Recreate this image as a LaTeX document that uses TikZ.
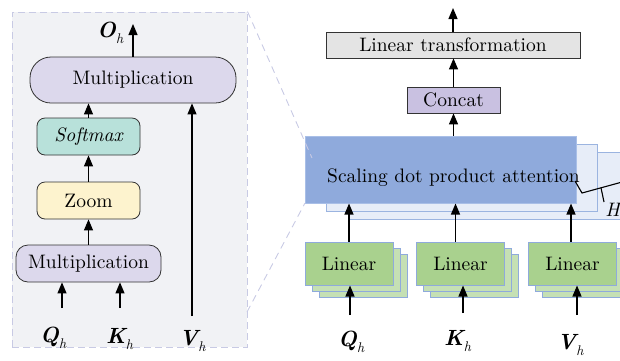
\documentclass[tikz,border=0pt]{standalone}
\usepackage{fontspec}
\setmainfont{lmroman10-regular.otf}[BoldFont=lmroman10-bold.otf,ItalicFont=lmroman10-italic.otf,BoldItalicFont=lmroman10-bolditalic.otf]
\usetikzlibrary{arrows.meta}
\definecolor{panelfill}{HTML}{F1F2F5}
\definecolor{paneldash}{HTML}{C8CAE4}
\definecolor{multfill}{HTML}{DCD8EC}
\definecolor{softfill}{HTML}{B8E1DA}
\definecolor{zoomfill}{HTML}{FDF3CE}
\definecolor{ltfill}{HTML}{E4E4E4}
\definecolor{concatfill}{HTML}{C9C1E1}
\definecolor{sdpafill}{HTML}{8FAADC}
\definecolor{sdpaedge}{HTML}{A9BFE7}
\definecolor{copyfill}{HTML}{E7EDF8}
\definecolor{copyedge}{HTML}{9BB4E0}
\definecolor{linfill}{HTML}{A9D18E}
\definecolor{linedge}{HTML}{8FAADC}
\definecolor{lincopy}{HTML}{C5E0B4}
\newcommand{\vlab}[2]{{\fontsize{22}{22}\selectfont\bfseries\itshape #1}{\fontsize{14}{14}\selectfont\itshape\raisebox{-6pt}{#2}}}
\begin{document}
\begin{tikzpicture}[x=1pt,y=-1pt,font=\fontsize{19.5}{23}\selectfont,
  box/.style={draw=black!80,line width=0.8pt,inner sep=0pt},
  arr/.style={line width=1.2pt,-{Triangle[length=11pt,width=9pt]}},
  sdpacopy/.style={draw=copyedge,fill=copyfill,line width=1pt,inner sep=0pt,minimum width=271pt,minimum height=67pt},
  lincopybox/.style={draw=linedge,fill=lincopy,line width=1pt,inner sep=0pt,minimum width=88pt,minimum height=43pt},
  linbox/.style={draw=linedge,fill=linfill,line width=1pt,inner sep=0pt,minimum width=88pt,minimum height=43pt},
  lab/.style={inner sep=0pt,anchor=base west},
  zoomline/.style={draw=paneldash,line width=0.9pt,dash pattern=on 7pt off 5pt}]
\useasboundingbox (0,0) rectangle (620,360);

% ---------- left panel ----------
\node[draw=paneldash,fill=panelfill,line width=1pt,dash pattern=on 7pt off 4pt,
      minimum width=235pt,minimum height=335pt,inner sep=0pt] (panel) at (129.5,179.5) {};

\node[box,fill=multfill,rounded corners=21pt,minimum width=206pt,minimum height=46pt] (multtop) at (133,80) {Multiplication};
\node[box,fill=softfill,rounded corners=8pt,minimum width=103pt,minimum height=37pt] (soft) at (88.5,136.5) {\itshape Softmax};
\node[box,fill=zoomfill,rounded corners=8pt,minimum width=103pt,minimum height=37pt] (zoom) at (88.5,200.5) {Zoom};
\node[box,fill=multfill,rounded corners=12pt,minimum width=145pt,minimum height=37pt] (multbot) at (88.5,263.5) {Multiplication};

\coordinate (qinl) at (62,308);
\coordinate (kinl) at (120,308);
\coordinate (vinl) at (192,316);
\coordinate (outl) at (133,24);

\draw[arr] (qinl) -- (qinl |- multbot.south);
\draw[arr] (kinl) -- (kinl |- multbot.south);
\draw[arr] (multbot.north) -- (zoom.south);
\draw[arr] (zoom.north) -- (soft.south);
\draw[arr] (soft.north) -- (soft.north |- multtop.south);
\draw[arr] (vinl) -- (vinl |- multtop.south);
\draw[arr] (multtop.north -| outl) -- (outl);

\node[lab] (ohl) at (97,37) {\vlab{O}{h}};
\node[lab] (qhl) at (40,342) {\vlab{Q}{h}};
\node[lab] (khl) at (106,343) {\vlab{K}{h}};
\node[lab] (vhl) at (179,345) {\vlab{V}{h}};

% ---------- right side ----------
\node[box,fill=ltfill,minimum width=254pt,minimum height=26pt] (lt) at (453,45) {Linear transformation};
\node[box,fill=concatfill,minimum width=93pt,minimum height=26pt] (concat) at (453.5,100) {Concat};

\node[sdpacopy] (sdpa3) at (484.5,186) {};
\node[sdpacopy] (sdpa2) at (462,178) {};
\node[draw=sdpaedge,fill=sdpafill,line width=1pt,inner sep=0pt,minimum width=271pt,minimum height=67pt] (sdpa) at (440.5,169.5) {};
\node[inner sep=0pt,anchor=base] (sdpatext) at (453.5,182) {Scaling dot product attention};

% zoom lines
\coordinate (pbot) at (247,312);
\coordinate (ztopend) at (312,158);
\coordinate (zbotend) at (305,203);
\draw[zoomline] (panel.north east) -- (ztopend);
\draw[zoomline] (pbot) -- (zbotend);

% brace with H
\draw[line width=1.1pt] (575,181) -- (582,193) -- (624,181.5);
\draw[line width=1.1pt] (601,187.8) -- (604,202);
\node[inner sep=0pt,anchor=east] (hlab) at (620,210) {\itshape H};

% linear stacks
\foreach \n/\cx in {1/349,2/460.5,3/572.5}{
  \node[lincopybox] (lin\n c2) at (\cx+14,275.5) {};
  \node[lincopybox] (lin\n c1) at (\cx+7,269.5) {};
  \node[linbox] (lin\n) at (\cx,263.5) {Linear};
}

\coordinate (qinr) at (350,315);
\coordinate (kinr) at (463,313);
\coordinate (vinr) at (577,315);
\draw[arr] (qinr) -- (qinr |- lin1.south);
\draw[arr] (kinr) -- (kinr |- lin2.south);
\draw[arr] (vinr) -- (vinr |- lin3.south);

\draw[arr] (lin1.north) -- (lin1.north |- sdpa.south);
\draw[arr] ([xshift=-5pt]lin2.north) -- ([xshift=-5pt]lin2.north |- sdpa.south);
\draw[arr] ([xshift=-1.5pt]lin3.north) -- ([xshift=-1.5pt]lin3.north |- sdpa.south);

\draw[arr] (sdpa.north -| concat) -- (concat.south);
\draw[arr] (concat.north) -- (concat.north |- lt.south);
\coordinate (outr) at (453,8);
\draw[arr] (lt.north -| outr) -- (outr);

\node[lab] (qhr) at (338,346) {\vlab{Q}{h}};
\node[lab] (khr) at (444,345) {\vlab{K}{h}};
\node[lab] (vhr) at (557,349) {\vlab{V}{h}};
\end{tikzpicture}
\end{document}
